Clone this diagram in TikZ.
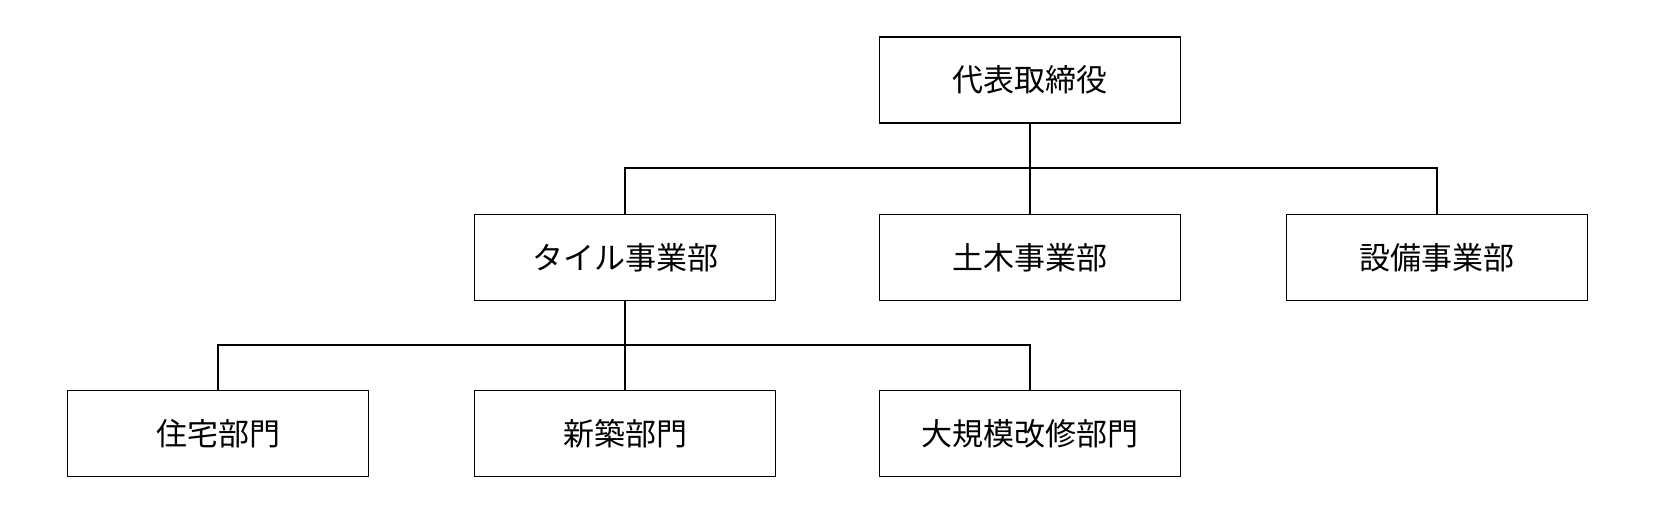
\documentclass[tikz,border=0pt]{standalone}
\usepackage{fontspec}
\newfontfamily\cjk{Noto Sans CJK JP}
\usepackage{tikz}
\usetikzlibrary{positioning,calc}

\begin{document}
\begin{tikzpicture}[x=0.5pt,y=-0.5pt,
  unit/.style={draw,line width=0.55pt,minimum width=150.5pt,minimum height=43pt,
    inner sep=0pt,font=\cjk\fontsize{15.5pt}{18pt}\selectfont},
  link/.style={line width=0.55pt}]
\useasboundingbox (0,0) rectangle (1655,521);
% top
\node[unit] (ceo) at (1030,80) {代表取締役};
% divisions
\node[unit] (tile) at (625,257.5) {タイル事業部};
\node[unit] (civil) at (1030,257.5) {土木事業部};
\node[unit] (equip) at (1437,257.5) {設備事業部};
% sections
\node[unit] (house) at (218,433.7) {住宅部門};
\node[unit] (newb) at (625,433.7) {新築部門};
\node[unit] (reno) at (1030,433.7) {大規模改修部門};
\coordinate (bus1) at (1030,168);
\coordinate (bus2) at (625,345);
\draw[link] (ceo.south) -- (bus1);
\draw[link] (tile.north) |- (bus1) -| (equip.north);
\draw[link] (bus1) -- (civil.north);
\draw[link] (tile.south) -- (bus2);
\draw[link] (house.north) |- (bus2) -| (reno.north);
\draw[link] (bus2) -- (newb.north);
\end{tikzpicture}
\end{document}
